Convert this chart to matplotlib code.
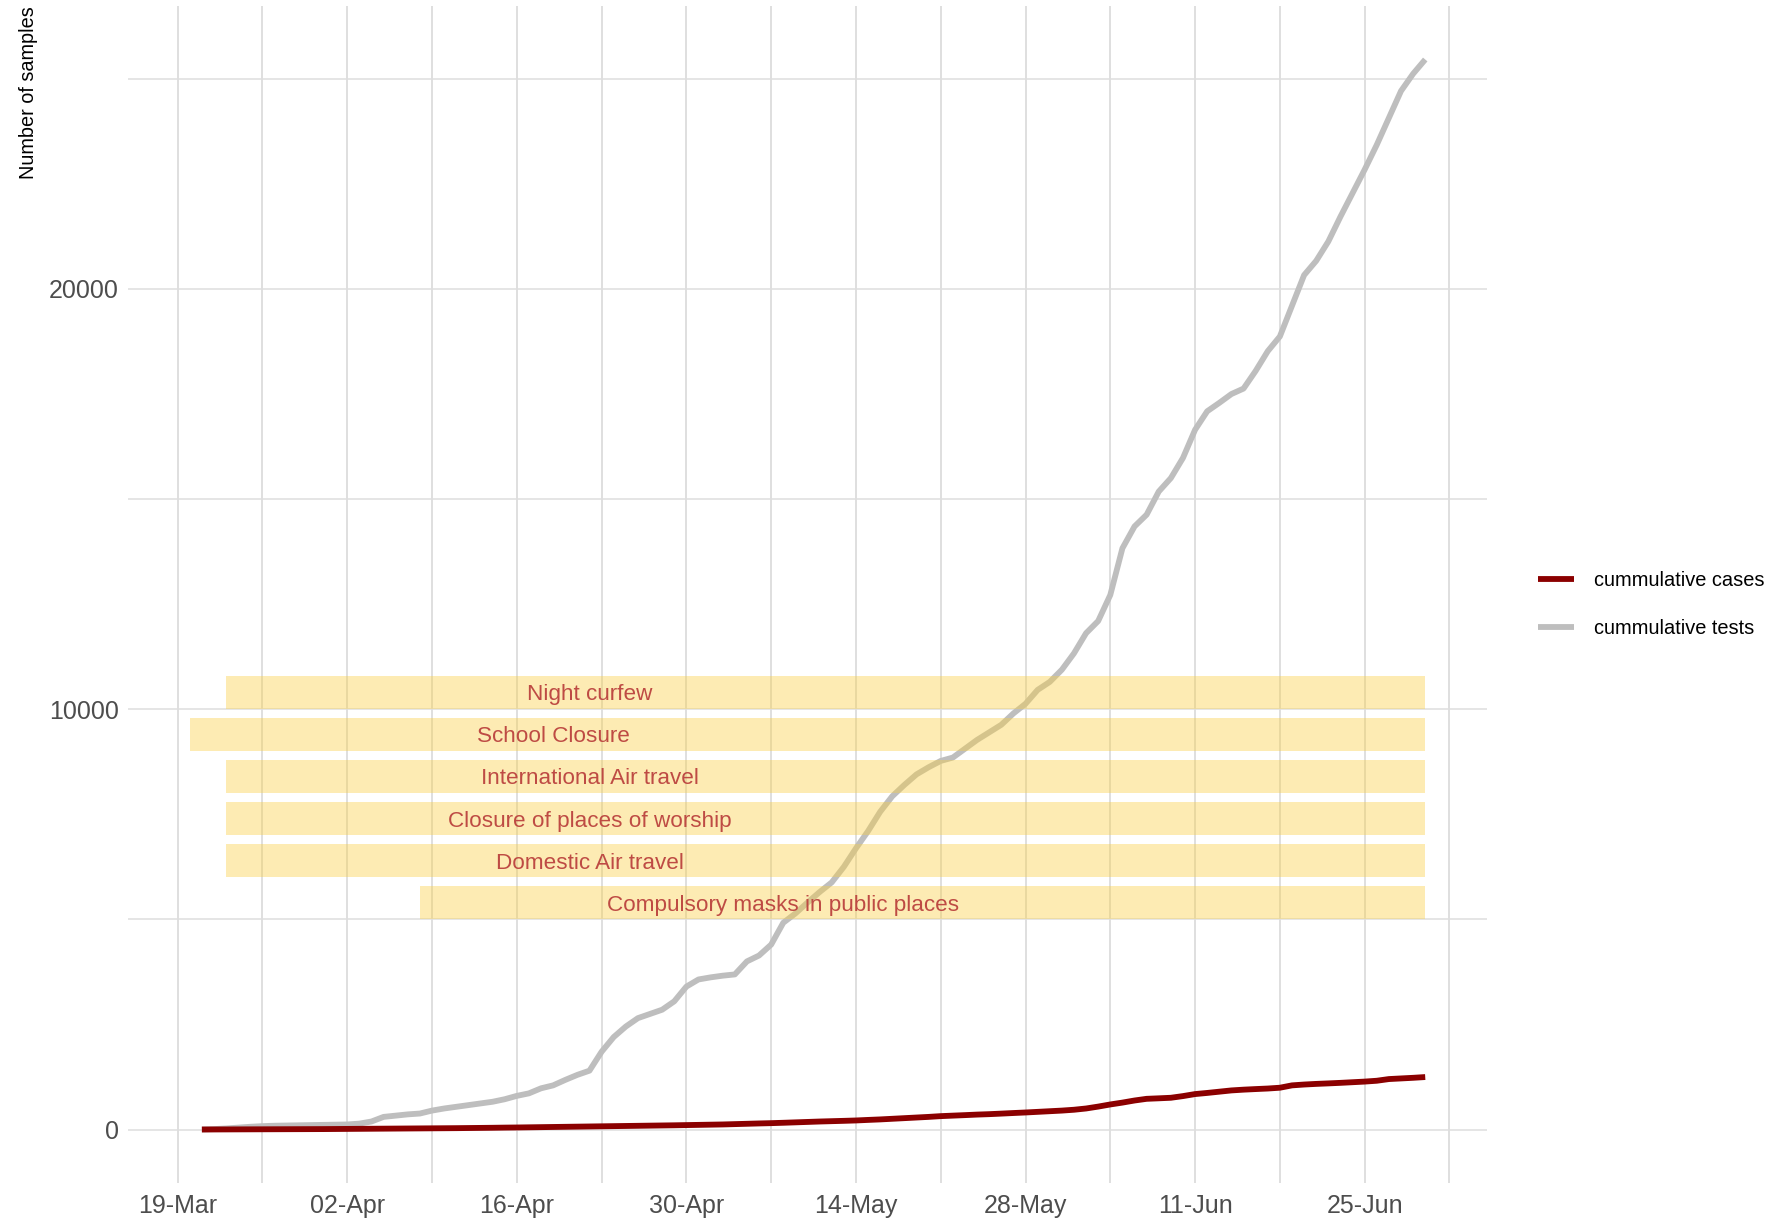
import matplotlib
matplotlib.use("Agg")
import matplotlib.pyplot as plt
import matplotlib.dates as mdates
import pandas as pd

plt.rcParams['font.family'] = ['Liberation Sans', 'DejaVu Sans']

# daily values, 21-Mar-2020 .. 30-Jun-2020
dates = pd.date_range('2020-03-21', '2020-06-30', freq='D')

tests = [0, 10, 25, 45, 65, 80, 90, 95, 100, 105, 110, 115, 120,
         140, 190, 300, 330, 360, 380, 450, 500, 540, 580, 620, 660,
         720, 800, 860, 980, 1050, 1180, 1300, 1400, 1850, 2200, 2450,
         2650, 2750, 2850, 3050, 3400, 3570, 3620, 3660, 3690, 4000,
         4140, 4400, 4920, 5140, 5400, 5650, 5880, 6250, 6690, 7100,
         7560, 7930, 8200, 8450, 8620, 8770, 8850, 9060, 9270, 9450,
         9630, 9900, 10130, 10460, 10650, 10940, 11330, 11810, 12100,
         12720, 13830, 14350, 14630, 15180, 15500, 15980, 16650, 17090,
         17290, 17500, 17630, 18050, 18520, 18870, 19600, 20330, 20670,
         21130, 21720, 22280, 22840, 23430, 24070, 24710, 25120, 25460]

cases = [0, 1, 2, 3, 4, 5, 6, 7, 8, 9, 10, 12, 14, 16, 18, 20, 22, 24,
         26, 28, 30, 32, 35, 38, 41, 45, 48, 52, 56, 60, 64, 68, 72, 76,
         80, 84, 88, 92, 96, 100, 105, 110, 115, 120, 128, 136, 144, 151,
         160, 170, 180, 190, 198, 206, 215, 228, 240, 255, 270, 285, 300,
         318, 330, 342, 355, 365, 378, 392, 405, 420, 435, 450, 470, 500,
         545, 596, 640, 690, 730, 742, 755, 795, 843, 870, 900, 930, 948,
         962, 975, 994, 1050, 1070, 1085, 1097, 1110, 1125, 1140, 1160,
         1200, 1215, 1230, 1248]

# interventions: label, start date, end date, band bottom
measures = ['Night curfew', 'School Closure', 'International Air travel',
            'Closure of places of worship', 'Domestic Air travel',
            'Compulsory masks in public places']
m_start = ['2020-03-23', '2020-03-20', '2020-03-23', '2020-03-23',
           '2020-03-23', '2020-04-08']
m_end = ['2020-06-30'] * 6
m_low = [10000, 9000, 8000, 7000, 6000, 5000]
band_h = 800

fig = plt.figure(figsize=(17.7, 12.25), dpi=100)
ax = fig.add_axes([128 / 1770, 1 - 1183 / 1225, (1487 - 128) / 1770, (1183 - 6) / 1225])

ax.plot(dates, tests, color='#BEBEBE', lw=4.2, label='cummulative tests', zorder=3,
        solid_capstyle='butt', solid_joinstyle='round')
ax.plot(dates, cases, color='#8B0000', lw=4.2, label='cummulative cases', zorder=3,
        solid_capstyle='butt', solid_joinstyle='round')

for name, s, e, lo in zip(measures, m_start, m_end, m_low):
    s = pd.Timestamp(s)
    e = pd.Timestamp(e)
    ax.fill_between([s, e], lo, lo + band_h, color='#FACF43', alpha=0.4, lw=0, zorder=4)
    ax.text(s + pd.Timedelta(days=30), lo + band_h / 2, name, color='#BE4B44',
            fontsize=16.2, ha='center', va='center_baseline', zorder=5)

major = pd.date_range('2020-03-19', '2020-06-25', freq='14D')
minor = pd.date_range('2020-03-26', '2020-07-02', freq='14D')
ax.set_xticks(major)
ax.set_xticks(minor, minor=True)
ax.xaxis.set_major_formatter(mdates.DateFormatter('%d-%b'))
ax.set_yticks([0, 10000, 20000])
ax.set_yticks([5000, 15000, 25000], minor=True)

x0 = pd.Timestamp('2020-03-20')
x1 = pd.Timestamp('2020-06-30')
span = (x1 - x0) * 0.05
ax.set_xlim(x0 - span, x1 + span)
ax.set_ylim(-0.05 * max(tests), 1.05 * max(tests))

ax.grid(True, which='both', axis='x', color='#D6D6D6', lw=1.1, zorder=0)
ax.grid(True, which='both', axis='y', color='#DEDEDE', lw=1.1, zorder=0)
ax.set_axisbelow(True)
for sp in ax.spines.values():
    sp.set_visible(False)
ax.tick_params(which='both', length=0)
ax.tick_params(axis='both', labelsize=18, labelcolor='#4D4D4D')
ax.tick_params(axis='x', pad=8)
ax.tick_params(axis='y', pad=6.5)

fig.text(29 / 1770, 1 - 6 / 1225, 'Number of samples', rotation=90, fontsize=14.3,
         ha='center', va='top', color='black')

h, l = ax.get_legend_handles_labels()
leg = fig.legend([h[1], h[0]], [l[1], l[0]], loc='center left',
                 bbox_to_anchor=(1520 / 1770, 1 - 605 / 1225), frameon=False,
                 fontsize=14.4, handlelength=1.8, handletextpad=1.0, labelspacing=1.45)

fig.savefig('out.png', dpi=100)
